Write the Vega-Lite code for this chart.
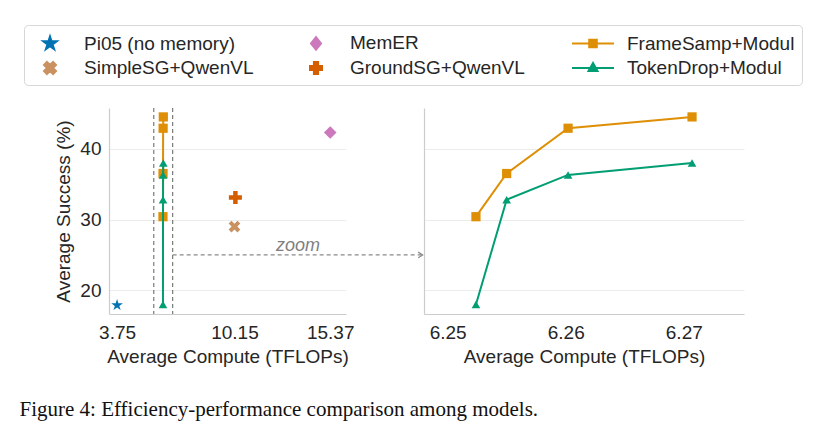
{
  "$schema": "https://vega.github.io/schema/vega-lite/v6.json",
  "autosize": {"type": "pad"},
  "padding": {"left": 19, "top": 24, "right": 5, "bottom": 5},
  "background": "white",
  "bounds": "flush",
  "spacing": 78,
  "title": {
    "text": "Figure 4: Efficiency-performance comparison among models.",
    "orient": "bottom",
    "anchor": "start",
    "frame": "bounds",
    "font": "Liberation Serif",
    "fontSize": 21,
    "fontWeight": "normal",
    "color": "#111111",
    "offset": 33,
    "dx": -4
  },
  "datasets": {
    "pts": [
      {"model": "Pi05 (no memory)", "compute": 3.75, "success": 17.9},
      {"model": "SimpleSG+QwenVL", "compute": 10.15, "success": 29.0},
      {"model": "MemER", "compute": 15.37, "success": 42.3},
      {"model": "GroundSG+QwenVL", "compute": 10.2, "success": 33.1},
      {"model": "FrameSamp+Modul", "compute": 6.2524, "success": 30.4},
      {"model": "FrameSamp+Modul", "compute": 6.2550, "success": 36.5},
      {"model": "FrameSamp+Modul", "compute": 6.2602, "success": 42.9},
      {"model": "FrameSamp+Modul", "compute": 6.2707, "success": 44.5},
      {"model": "TokenDrop+Modul", "compute": 6.2524, "success": 18.0},
      {"model": "TokenDrop+Modul", "compute": 6.2550, "success": 32.8},
      {"model": "TokenDrop+Modul", "compute": 6.2602, "success": 36.3},
      {"model": "TokenDrop+Modul", "compute": 6.2707, "success": 38.0}
    ],
    "zoombox": [{"compute": 5.75}, {"compute": 6.78}],
    "arrow": [{"compute": 6.78, "compute2": 20.41, "success": 25}],
    "note": [{"compute": 13.61, "success": 25, "label": "zoom"}]
  },
  "config": {
    "view": {"stroke": null},
    "font": "Liberation Sans",
    "axis": {
      "labelFont": "Liberation Sans",
      "titleFont": "Liberation Sans",
      "labelFontSize": 19,
      "titleFontSize": 19,
      "labelColor": "#262626",
      "titleColor": "#262626",
      "titleFontWeight": "normal",
      "domainColor": "#cccccc",
      "domainWidth": 1.2,
      "gridColor": "#ececec",
      "gridWidth": 1,
      "ticks": false,
      "tickSize": 0,
      "labelFlush": false
    },
    "axisX": {"grid": false, "labelPadding": 9, "titlePadding": 5},
    "axisY": {"grid": true, "labelPadding": 8, "titlePadding": 6},
    "legend": {
      "title": null, "orient": "none", "legendX": -85, "legendY": -83, "columns": 3,
      "symbolSize": 400, "symbolStrokeWidth": 2, "symbolOpacity": 1, "symbolOffset": 8,
      "labelFont": "Liberation Sans", "labelFontSize": 19, "labelColor": "#262626", "labelLimit": 300,
      "labelOffset": 23, "columnPadding": 43, "rowPadding": 3, "padding": 7,
      "strokeColor": "#d6d6d6", "fillColor": "white", "cornerRadius": 4
    }
  },
  "hconcat": [
    {
      "width": 237,
      "height": 206,
      "layer": [
        {
          "data": {"name": "zoombox"},
          "mark": {"type": "rule", "color": "#7a7a7a", "strokeWidth": 1.2, "strokeDash": [4, 3]},
          "encoding": {
            "x": {
              "field": "compute",
              "type": "quantitative",
              "scale": {"domain": [3.31, 16.23], "nice": false, "zero": false},
              "axis": {"values": [3.75, 10.15, 15.37], "format": ".2f", "title": "Average Compute (TFLOPs)"}
            }
          }
        },
        {
          "data": {"name": "arrow"},
          "mark": {"type": "rule", "color": "#8a8a8a", "strokeWidth": 1.2, "strokeDash": [4, 3]},
          "encoding": {
            "x": {"field": "compute", "type": "quantitative"},
            "x2": {"field": "compute2"},
            "y": {
              "field": "success",
              "type": "quantitative",
              "scale": {"domain": [16.65, 45.76], "nice": false, "zero": false},
              "axis": {"values": [20, 30, 40], "title": "Average Success (%)"}
            }
          }
        },
        {
          "data": {"name": "arrow"},
          "mark": {"type": "point", "shape": "M-1.6,-1L0,0L-1.6,1", "filled": false, "stroke": "#8a8a8a", "strokeWidth": 1.2, "size": 31, "opacity": 1},
          "encoding": {
            "x": {"field": "compute2", "type": "quantitative"},
            "y": {"field": "success", "type": "quantitative"}
          }
        },
        {
          "data": {"name": "note"},
          "mark": {"type": "text", "font": "Liberation Sans", "fontSize": 18, "fontStyle": "italic", "color": "#7f7f7f", "baseline": "alphabetic", "align": "center", "dy": -4},
          "encoding": {
            "x": {"field": "compute", "type": "quantitative"},
            "y": {"field": "success", "type": "quantitative"},
            "text": {"field": "label"}
          }
        },
        {
          "data": {"name": "pts"},
          "mark": {"type": "point", "filled": true, "opacity": 0},
          "encoding": {
            "x": {"field": "compute", "type": "quantitative"},
            "y": {"field": "success", "type": "quantitative"},
            "fill": {
              "field": "model", "type": "nominal",
              "scale": {"domain": ["Pi05 (no memory)", "SimpleSG+QwenVL", "MemER", "GroundSG+QwenVL", "FrameSamp+Modul", "TokenDrop+Modul"],
                        "range": ["#0173b2", "#ca9161", "#cc78bc", "#d55e00", "#de8f05", "#029e73"]}
            },
            "stroke": {
              "field": "model", "type": "nominal",
              "scale": {"domain": ["Pi05 (no memory)", "SimpleSG+QwenVL", "MemER", "GroundSG+QwenVL", "FrameSamp+Modul", "TokenDrop+Modul"],
                        "range": ["#0173b2", "#ca9161", "#cc78bc", "#d55e00", "#de8f05", "#029e73"]}
            },
            "shape": {
              "field": "model", "type": "nominal",
              "scale": {"domain": ["Pi05 (no memory)", "SimpleSG+QwenVL", "MemER", "GroundSG+QwenVL", "FrameSamp+Modul", "TokenDrop+Modul"],
                        "range": [
                          "M0,-0.7L0.157,-0.216L0.666,-0.216L0.254,0.083L0.411,0.566L0,0.267L-0.411,0.566L-0.254,0.083L-0.666,-0.216L-0.157,-0.216Z",
                          "M0.6,-0.307L0.293,0L0.6,0.307L0.307,0.6L0,0.293L-0.307,0.6L-0.6,0.307L-0.293,0L-0.6,-0.307L-0.307,-0.6L0,-0.293L0.307,-0.6Z",
                          "M0,-0.62L0.5,0L0,0.62L-0.5,0Z",
                          "M0.207,-0.6L0.207,-0.207L0.6,-0.207L0.6,0.207L0.207,0.207L0.207,0.6L-0.207,0.6L-0.207,0.207L-0.6,0.207L-0.6,-0.207L-0.207,-0.207L-0.207,-0.6Z",
                          "M-2.1,0L2.1,0M-0.38,-0.38L0.38,-0.38L0.38,0.38L-0.38,0.38Z",
                          "M-2.1,0L2.1,0M0,-0.5L0.45,0.3L-0.45,0.3Z"
                        ]}
            }
          }
        },
        {
          "data": {"name": "pts"},
          "transform": [{"filter": "datum.model == 'FrameSamp+Modul'"}],
          "mark": {"type": "line", "color": "#de8f05", "strokeWidth": 2},
          "encoding": {
            "x": {"field": "compute", "type": "quantitative"},
            "y": {"field": "success", "type": "quantitative"}
          }
        },
        {
          "data": {"name": "pts"},
          "transform": [{"filter": "datum.model == 'FrameSamp+Modul'"}],
          "mark": {"type": "point", "shape": "square", "filled": true, "opacity": 1, "color": "#de8f05", "size": 85},
          "encoding": {
            "x": {"field": "compute", "type": "quantitative"},
            "y": {"field": "success", "type": "quantitative"}
          }
        },
        {
          "data": {"name": "pts"},
          "transform": [{"filter": "datum.model == 'TokenDrop+Modul'"}],
          "mark": {"type": "line", "color": "#029e73", "strokeWidth": 2},
          "encoding": {
            "x": {"field": "compute", "type": "quantitative"},
            "y": {"field": "success", "type": "quantitative"}
          }
        },
        {
          "data": {"name": "pts"},
          "transform": [{"filter": "datum.model == 'TokenDrop+Modul'"}],
          "mark": {"type": "point", "shape": "triangle-up", "filled": true, "opacity": 1, "color": "#029e73", "size": 75},
          "encoding": {
            "x": {"field": "compute", "type": "quantitative"},
            "y": {"field": "success", "type": "quantitative"}
          }
        },
        {
          "data": {"name": "pts"},
          "transform": [{"filter": "datum.model == 'Pi05 (no memory)'"}],
          "mark": {"type": "point", "shape": "M0,-1L0.2245,-0.309L0.951,-0.309L0.3633,0.118L0.5878,0.809L0,0.382L-0.5878,0.809L-0.3633,0.118L-0.951,-0.309L-0.2245,-0.309Z", "filled": true, "opacity": 1, "color": "#0173b2", "size": 150},
          "encoding": {
            "x": {"field": "compute", "type": "quantitative"},
            "y": {"field": "success", "type": "quantitative"}
          }
        },
        {
          "data": {"name": "pts"},
          "transform": [{"filter": "datum.model == 'SimpleSG+QwenVL'"}],
          "mark": {"type": "point", "shape": "M1,-0.512L0.4876,0L1,0.512L0.512,1L0,0.4876L-0.512,1L-1,0.512L-0.4876,0L-1,-0.512L-0.512,-1L0,-0.4876L0.512,-1Z", "filled": true, "opacity": 1, "color": "#ca9161", "size": 137},
          "encoding": {
            "x": {"field": "compute", "type": "quantitative"},
            "y": {"field": "success", "type": "quantitative"}
          }
        },
        {
          "data": {"name": "pts"},
          "transform": [{"filter": "datum.model == 'GroundSG+QwenVL'"}],
          "mark": {"type": "point", "shape": "M0.345,-1L0.345,-0.345L1,-0.345L1,0.345L0.345,0.345L0.345,1L-0.345,1L-0.345,0.345L-1,0.345L-1,-0.345L-0.345,-0.345L-0.345,-1Z", "filled": true, "opacity": 1, "color": "#d55e00", "size": 170},
          "encoding": {
            "x": {"field": "compute", "type": "quantitative"},
            "y": {"field": "success", "type": "quantitative"}
          }
        },
        {
          "data": {"name": "pts"},
          "transform": [{"filter": "datum.model == 'MemER'"}],
          "mark": {"type": "point", "shape": "M0,-1L1,0L0,1L-1,0Z", "filled": true, "opacity": 1, "color": "#cc78bc", "size": 160},
          "encoding": {
            "x": {"field": "compute", "type": "quantitative"},
            "y": {"field": "success", "type": "quantitative"}
          }
        }
      ]
    },
    {
      "width": 320,
      "height": 206,
      "data": {"name": "pts"},
      "layer": [
        {
          "transform": [{"filter": "datum.model == 'FrameSamp+Modul'"}],
          "mark": {"type": "line", "color": "#de8f05", "strokeWidth": 2},
          "encoding": {
            "x": {
              "field": "compute",
              "type": "quantitative",
              "scale": {"domain": [6.248, 6.2751], "nice": false, "zero": false},
              "axis": {"values": [6.25, 6.26, 6.27], "format": ".2f", "title": "Average Compute (TFLOPs)"}
            },
            "y": {
              "field": "success",
              "type": "quantitative",
              "scale": {"domain": [16.65, 45.76], "nice": false, "zero": false},
              "axis": {"values": [20, 30, 40], "labels": false, "title": null}
            }
          }
        },
        {
          "transform": [{"filter": "datum.model == 'FrameSamp+Modul'"}],
          "mark": {"type": "point", "shape": "square", "filled": true, "opacity": 1, "color": "#de8f05", "size": 85},
          "encoding": {
            "x": {"field": "compute", "type": "quantitative"},
            "y": {"field": "success", "type": "quantitative"}
          }
        },
        {
          "transform": [{"filter": "datum.model == 'TokenDrop+Modul'"}],
          "mark": {"type": "line", "color": "#029e73", "strokeWidth": 2},
          "encoding": {
            "x": {"field": "compute", "type": "quantitative"},
            "y": {"field": "success", "type": "quantitative"}
          }
        },
        {
          "transform": [{"filter": "datum.model == 'TokenDrop+Modul'"}],
          "mark": {"type": "point", "shape": "triangle-up", "filled": true, "opacity": 1, "color": "#029e73", "size": 75},
          "encoding": {
            "x": {"field": "compute", "type": "quantitative"},
            "y": {"field": "success", "type": "quantitative"}
          }
        }
      ]
    }
  ]
}
